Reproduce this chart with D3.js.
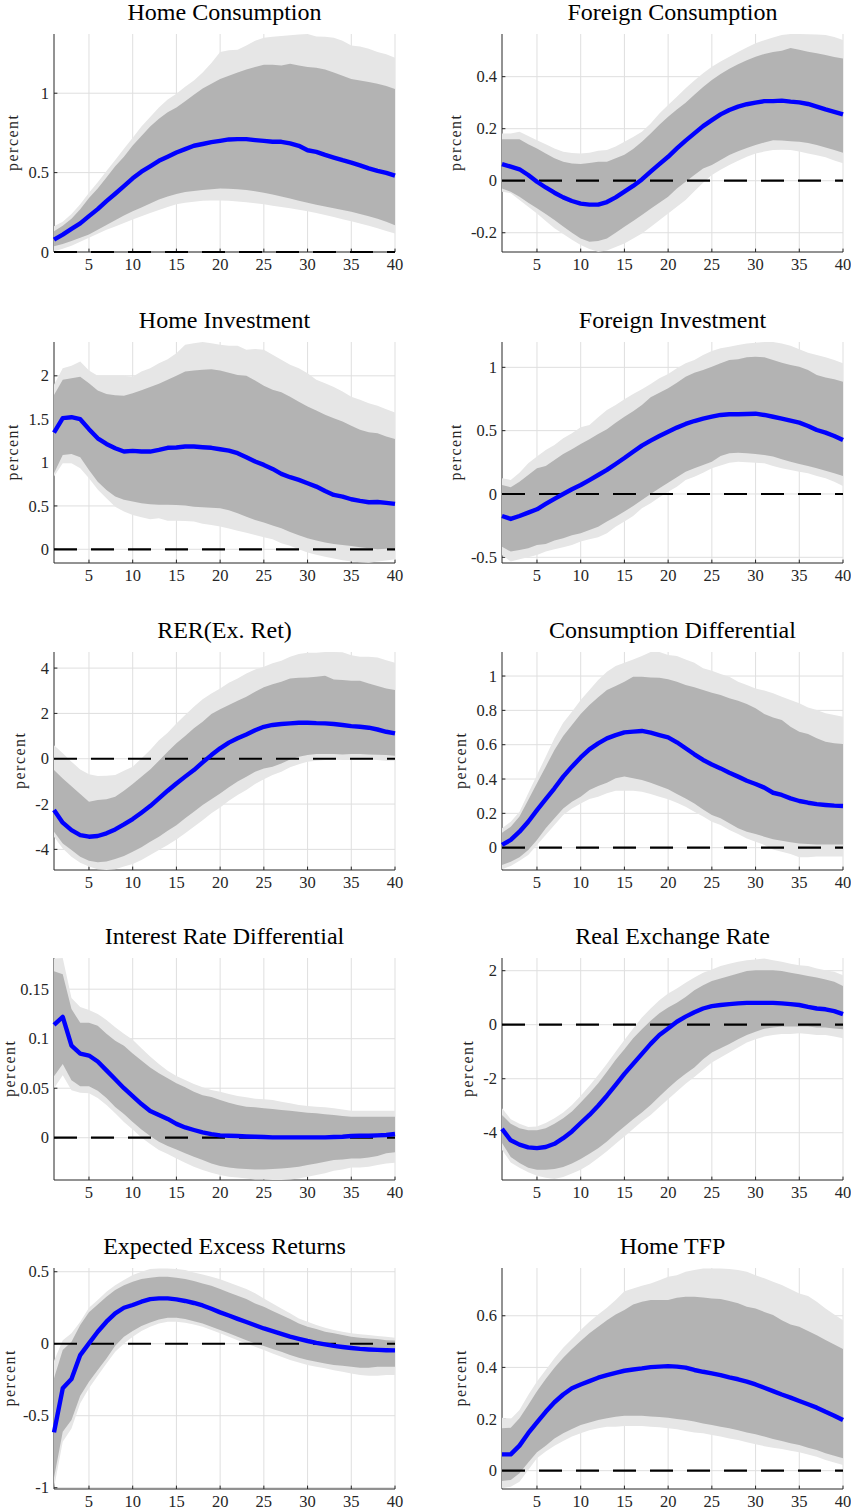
<!DOCTYPE html>
<html lang="en">
<head>
<meta charset="UTF-8">
<title>Impulse responses</title>
<script src="https://d3js.org/d3.v7.min.js"></script>
<style>
  body { margin: 0; background: #fff; }
  svg { display: block; font-family: "Liberation Serif", "Times New Roman", serif; }
</style>
</head>
<body>
<svg id="chart" width="851" height="1509"></svg>
<script>
// horizons 1..40
const horizon = d3.range(1, 41);
const xTicks = [5, 10, 15, 20, 25, 30, 35, 40];

const titles = ["Home Consumption", "Foreign Consumption", "Home Investment", "Foreign Investment",
    "RER(Ex. Ret)", "Consumption Differential", "Interest Rate Differential", "Real Exchange Rate",
    "Expected Excess Returns", "Home TFP"];

const yDomains = [[0, 1.373], [-0.274, 0.564], [-0.158, 2.39], [-0.545, 1.2], [-4.91, 4.71],
    [-0.13, 1.14], [-0.0427, 0.1815], [-5.75, 2.47], [-1.009, 0.526], [-0.071, 0.785]];

const yTicks = [[0, 0.5, 1], [-0.2, 0, 0.2, 0.4], [0, 0.5, 1, 1.5, 2], [-0.5, 0, 0.5, 1], [-4, -2, 0, 2, 4],
    [0, 0.2, 0.4, 0.6, 0.8, 1], [0, 0.05, 0.1, 0.15], [-4, -2, 0, 2], [-1, -0.5, 0, 0.5], [0, 0.2, 0.4, 0.6]];

// Home Consumption
const hcMedian = [0.078,0.11,0.146,0.18,0.226,0.27,0.32,0.367,0.415,0.464,0.506,0.54,0.574,0.6,0.627,0.648,0.669,0.68,0.692,0.70,0.709,0.711,0.711,0.705,0.70,0.694,0.694,0.684,0.669,0.641,0.631,0.612,0.595,0.578,0.563,0.546,0.527,0.511,0.498,0.481];
const hcInnerHi = [0.13,0.165,0.21,0.27,0.34,0.40,0.47,0.54,0.60,0.67,0.73,0.79,0.84,0.88,0.91,0.95,0.99,1.03,1.06,1.09,1.11,1.13,1.15,1.165,1.18,1.18,1.175,1.186,1.175,1.165,1.16,1.15,1.13,1.11,1.09,1.08,1.07,1.06,1.045,1.027];
const hcInnerLo = [0.036,0.05,0.07,0.09,0.11,0.14,0.17,0.20,0.23,0.257,0.28,0.305,0.33,0.35,0.365,0.378,0.384,0.39,0.395,0.40,0.398,0.395,0.39,0.383,0.373,0.362,0.35,0.337,0.323,0.31,0.298,0.287,0.275,0.264,0.253,0.24,0.225,0.21,0.19,0.169];
const hcOuterHi = [0.162,0.19,0.24,0.30,0.373,0.44,0.51,0.58,0.65,0.72,0.79,0.85,0.91,0.96,0.996,1.04,1.08,1.13,1.19,1.26,1.27,1.274,1.30,1.33,1.35,1.355,1.36,1.365,1.37,1.373,1.358,1.355,1.35,1.33,1.30,1.295,1.28,1.26,1.245,1.224];
const hcOuterLo = [0.004,0.02,0.04,0.065,0.09,0.115,0.14,0.16,0.183,0.205,0.225,0.245,0.265,0.283,0.30,0.31,0.317,0.322,0.325,0.325,0.323,0.318,0.313,0.307,0.30,0.292,0.284,0.275,0.266,0.257,0.245,0.233,0.22,0.207,0.194,0.18,0.166,0.15,0.133,0.116];

// Foreign Consumption
const fcMedian = [0.064,0.054,0.044,0.022,-0.004,-0.026,-0.046,-0.064,-0.078,-0.088,-0.092,-0.092,-0.082,-0.064,-0.042,-0.02,0.005,0.035,0.064,0.092,0.124,0.154,0.182,0.21,0.233,0.255,0.272,0.285,0.294,0.30,0.306,0.306,0.308,0.304,0.301,0.295,0.285,0.274,0.265,0.255];
const fcInnerHi = [0.159,0.159,0.159,0.14,0.124,0.105,0.086,0.073,0.066,0.064,0.068,0.073,0.073,0.086,0.10,0.122,0.15,0.182,0.215,0.246,0.274,0.30,0.33,0.36,0.387,0.41,0.43,0.448,0.463,0.477,0.487,0.495,0.50,0.51,0.503,0.496,0.49,0.483,0.476,0.47];
const fcInnerLo = [-0.03,-0.042,-0.062,-0.085,-0.106,-0.128,-0.151,-0.176,-0.2,-0.222,-0.235,-0.232,-0.222,-0.2,-0.177,-0.155,-0.132,-0.108,-0.085,-0.062,-0.03,-0.004,0.022,0.047,0.06,0.08,0.099,0.113,0.126,0.137,0.147,0.156,0.155,0.152,0.15,0.145,0.137,0.128,0.118,0.108];
const fcOuterHi = [0.182,0.182,0.188,0.172,0.156,0.14,0.124,0.111,0.107,0.105,0.108,0.115,0.118,0.132,0.15,0.168,0.188,0.22,0.258,0.291,0.323,0.355,0.385,0.413,0.438,0.458,0.477,0.495,0.512,0.528,0.54,0.551,0.56,0.564,0.564,0.563,0.562,0.56,0.552,0.541];
const fcOuterLo = [-0.042,-0.048,-0.074,-0.1,-0.126,-0.155,-0.183,-0.205,-0.227,-0.247,-0.262,-0.273,-0.268,-0.255,-0.241,-0.222,-0.203,-0.178,-0.152,-0.126,-0.1,-0.074,-0.04,-0.008,0.022,0.042,0.06,0.077,0.092,0.105,0.112,0.118,0.119,0.118,0.112,0.105,0.098,0.09,0.078,0.067];

// Home Investment
const hiMedian = [1.346,1.512,1.523,1.5,1.385,1.28,1.215,1.165,1.127,1.135,1.127,1.127,1.146,1.17,1.173,1.185,1.185,1.177,1.17,1.154,1.138,1.108,1.062,1.012,0.973,0.927,0.869,0.831,0.80,0.762,0.723,0.673,0.627,0.608,0.577,0.558,0.542,0.546,0.535,0.523];
const hiInnerHi = [1.78,1.954,1.973,1.99,1.915,1.83,1.79,1.775,1.77,1.80,1.835,1.87,1.91,1.954,2.0,2.05,2.06,2.07,2.077,2.06,2.035,2.01,2.0,1.946,1.885,1.84,1.81,1.76,1.70,1.646,1.6,1.55,1.51,1.473,1.423,1.377,1.35,1.338,1.3,1.273];
const hiInnerLo = [0.877,1.088,1.1,1.06,0.915,0.78,0.685,0.608,0.57,0.55,0.53,0.52,0.515,0.513,0.511,0.505,0.49,0.485,0.48,0.473,0.45,0.415,0.375,0.338,0.308,0.275,0.242,0.2,0.162,0.127,0.1,0.077,0.062,0.05,0.038,0.025,0.012,0.0,0.006,0.012];
const hiOuterHi = [1.896,2.088,2.115,2.165,2.06,2.0,2.0,2.0,2.0,1.99,2.05,2.088,2.146,2.19,2.26,2.358,2.377,2.39,2.377,2.358,2.346,2.346,2.3,2.308,2.3,2.242,2.185,2.127,2.088,2.03,1.954,1.915,1.87,1.82,1.76,1.723,1.685,1.654,1.615,1.577];
const hiOuterLo = [0.838,0.992,0.992,0.935,0.82,0.69,0.588,0.49,0.435,0.396,0.37,0.346,0.358,0.33,0.33,0.325,0.32,0.295,0.28,0.262,0.24,0.215,0.19,0.165,0.138,0.115,0.07,0.04,0.0,-0.038,-0.062,-0.085,-0.105,-0.125,-0.142,-0.15,-0.154,-0.142,-0.13,-0.115];

// Foreign Investment
const fiMedian = [-0.174,-0.197,-0.174,-0.147,-0.121,-0.079,-0.039,0.0,0.037,0.071,0.11,0.15,0.19,0.237,0.284,0.334,0.382,0.421,0.458,0.492,0.524,0.553,0.576,0.595,0.61,0.624,0.629,0.629,0.632,0.634,0.624,0.61,0.595,0.579,0.563,0.537,0.505,0.484,0.458,0.426];
const fiInnerHi = [0.071,0.053,0.097,0.15,0.203,0.221,0.268,0.316,0.353,0.395,0.432,0.474,0.511,0.563,0.61,0.654,0.703,0.763,0.8,0.834,0.879,0.926,0.958,0.979,1.005,1.032,1.058,1.063,1.079,1.084,1.079,1.058,1.037,1.018,1.005,0.979,0.939,0.92,0.905,0.887];
const fiInnerLo = [-0.416,-0.455,-0.442,-0.429,-0.403,-0.395,-0.368,-0.35,-0.326,-0.31,-0.284,-0.258,-0.218,-0.179,-0.139,-0.095,-0.047,0.0,0.045,0.089,0.132,0.176,0.203,0.229,0.255,0.30,0.321,0.326,0.321,0.316,0.308,0.295,0.274,0.255,0.237,0.221,0.203,0.184,0.163,0.142];
const fiOuterHi = [0.124,0.111,0.168,0.242,0.295,0.347,0.387,0.44,0.479,0.526,0.545,0.605,0.663,0.703,0.747,0.789,0.826,0.868,0.913,0.947,0.992,1.032,1.058,1.097,1.129,1.15,1.163,1.176,1.189,1.195,1.2,1.2,1.189,1.171,1.142,1.116,1.097,1.079,1.058,1.032];
const fiOuterLo = [-0.482,-0.534,-0.516,-0.5,-0.482,-0.455,-0.437,-0.421,-0.403,-0.376,-0.358,-0.342,-0.311,-0.258,-0.218,-0.174,-0.113,-0.074,-0.026,0.018,0.058,0.111,0.137,0.168,0.203,0.224,0.247,0.255,0.25,0.247,0.242,0.221,0.203,0.189,0.176,0.163,0.142,0.124,0.097,0.063];

// RER (excess return)
const rerMedian = [-2.26,-2.82,-3.15,-3.37,-3.44,-3.41,-3.29,-3.12,-2.9,-2.66,-2.38,-2.09,-1.75,-1.41,-1.09,-0.79,-0.5,-0.16,0.16,0.46,0.71,0.9,1.07,1.26,1.41,1.49,1.53,1.56,1.59,1.59,1.57,1.56,1.53,1.49,1.44,1.41,1.37,1.29,1.19,1.12];
const rerInnerHi = [-0.5,-0.87,-1.21,-1.56,-1.9,-1.82,-1.79,-1.68,-1.41,-1.12,-0.79,-0.47,-0.09,0.31,0.68,1.0,1.34,1.63,1.97,2.18,2.37,2.56,2.74,2.96,3.15,3.29,3.4,3.54,3.57,3.59,3.62,3.66,3.5,3.47,3.44,3.44,3.32,3.21,3.1,3.03];
const rerInnerLo = [-3.22,-3.74,-4.03,-4.32,-4.5,-4.57,-4.54,-4.43,-4.29,-4.1,-3.91,-3.66,-3.44,-3.18,-2.93,-2.63,-2.34,-2.04,-1.79,-1.53,-1.26,-1.01,-0.79,-0.57,-0.43,-0.35,-0.21,-0.03,0.09,0.16,0.21,0.21,0.21,0.19,0.21,0.21,0.19,0.18,0.16,0.13];
const rerOuterHi = [0.6,0.24,-0.13,-0.47,-0.68,-0.76,-0.75,-0.72,-0.53,-0.35,0.01,0.38,0.82,1.15,1.56,1.93,2.29,2.62,2.88,3.1,3.35,3.54,3.76,3.94,4.06,4.21,4.32,4.5,4.62,4.68,4.68,4.71,4.71,4.7,4.57,4.5,4.5,4.47,4.35,4.24];
const rerOuterLo = [-3.44,-3.96,-4.32,-4.59,-4.76,-4.88,-4.91,-4.88,-4.76,-4.65,-4.47,-4.25,-4.03,-3.81,-3.56,-3.29,-3.0,-2.71,-2.41,-2.15,-1.85,-1.6,-1.38,-1.12,-0.91,-0.72,-0.57,-0.38,-0.24,-0.13,-0.09,-0.06,-0.03,-0.06,-0.06,-0.06,-0.03,-0.06,-0.09,-0.09];

// Consumption Differential
const cdMedian = [0.016,0.045,0.093,0.151,0.219,0.283,0.346,0.414,0.472,0.526,0.573,0.608,0.637,0.656,0.672,0.676,0.68,0.67,0.656,0.643,0.614,0.579,0.544,0.511,0.485,0.462,0.437,0.414,0.39,0.371,0.35,0.32,0.307,0.287,0.272,0.262,0.254,0.249,0.245,0.243];
const cdInnerHi = [0.087,0.122,0.181,0.278,0.375,0.472,0.569,0.65,0.715,0.779,0.831,0.876,0.918,0.942,0.967,0.996,0.996,0.992,0.99,0.981,0.967,0.948,0.934,0.918,0.903,0.889,0.87,0.856,0.837,0.812,0.779,0.759,0.744,0.705,0.676,0.662,0.637,0.617,0.608,0.604];
const cdInnerLo = [-0.101,-0.082,-0.056,-0.014,0.045,0.113,0.171,0.229,0.268,0.297,0.336,0.359,0.379,0.404,0.414,0.404,0.394,0.379,0.359,0.34,0.313,0.287,0.258,0.223,0.19,0.171,0.142,0.113,0.093,0.08,0.064,0.049,0.041,0.031,0.025,0.021,0.019,0.019,0.019,0.019];
const cdOuterHi = [0.113,0.151,0.21,0.317,0.423,0.53,0.637,0.728,0.792,0.86,0.918,0.977,1.025,1.058,1.078,1.097,1.117,1.14,1.14,1.122,1.117,1.097,1.078,1.045,1.031,1.012,0.996,0.967,0.948,0.928,0.915,0.899,0.88,0.86,0.841,0.817,0.802,0.783,0.773,0.763];
const cdOuterLo = [-0.126,-0.107,-0.076,-0.043,0.016,0.074,0.132,0.19,0.229,0.258,0.283,0.297,0.317,0.332,0.332,0.332,0.326,0.313,0.297,0.282,0.262,0.239,0.21,0.181,0.151,0.132,0.103,0.08,0.054,0.035,0.016,-0.01,-0.023,-0.037,-0.056,-0.056,-0.052,-0.052,-0.052,-0.052];

// Interest Rate Differential
const irdMedian = [0.114,0.122,0.093,0.085,0.083,0.077,0.068,0.059,0.05,0.042,0.034,0.027,0.023,0.019,0.014,0.0104,0.0078,0.0054,0.0037,0.0024,0.002,0.0017,0.0013,0.001,0.0007,0.0003,0.0003,0.0003,0.0003,0.0003,0.0003,0.0003,0.0007,0.001,0.0017,0.002,0.002,0.0024,0.0027,0.0037];
const irdInnerHi = [0.168,0.165,0.13,0.116,0.116,0.113,0.105,0.098,0.093,0.085,0.078,0.071,0.065,0.06,0.055,0.051,0.0465,0.043,0.041,0.038,0.0354,0.033,0.0313,0.0307,0.0297,0.029,0.028,0.0273,0.0263,0.0253,0.0246,0.0236,0.023,0.022,0.0212,0.0212,0.0212,0.0212,0.0212,0.0212];
const irdInnerLo = [0.062,0.0745,0.058,0.052,0.052,0.0475,0.04,0.031,0.024,0.016,0.0084,0.0017,-0.004,-0.0084,-0.0118,-0.0158,-0.0192,-0.0226,-0.026,-0.0286,-0.03,-0.031,-0.0317,-0.032,-0.032,-0.0317,-0.031,-0.0303,-0.0293,-0.0276,-0.026,-0.0243,-0.0226,-0.0219,-0.0209,-0.0209,-0.0199,-0.0185,-0.0158,-0.0148];
const irdOuterHi = [0.181,0.1815,0.141,0.132,0.129,0.125,0.119,0.1116,0.105,0.099,0.0903,0.082,0.0745,0.0677,0.0624,0.0583,0.0543,0.051,0.0482,0.0465,0.0442,0.0421,0.0408,0.0394,0.0388,0.038,0.0364,0.0347,0.033,0.032,0.0313,0.0307,0.0297,0.0286,0.0273,0.0273,0.0273,0.0273,0.0273,0.0273];
const irdOuterLo = [0.05,0.063,0.048,0.0455,0.0448,0.04,0.033,0.0246,0.016,0.0084,0.0003,-0.0064,-0.0125,-0.0165,-0.0209,-0.0253,-0.0293,-0.0327,-0.0354,-0.0377,-0.0394,-0.0401,-0.0411,-0.0421,-0.0421,-0.0427,-0.0427,-0.0421,-0.0411,-0.0394,-0.0377,-0.036,-0.0334,-0.032,-0.03,-0.03,-0.0293,-0.0276,-0.026,-0.0253];

// Real Exchange Rate
const rxMedian = [-3.86,-4.28,-4.44,-4.54,-4.57,-4.53,-4.41,-4.2,-3.95,-3.64,-3.34,-3.0,-2.63,-2.23,-1.82,-1.45,-1.08,-0.71,-0.38,-0.14,0.11,0.3,0.46,0.6,0.69,0.73,0.76,0.79,0.81,0.81,0.81,0.81,0.79,0.76,0.73,0.66,0.6,0.57,0.5,0.39];
const rxInnerHi = [-3.34,-3.67,-3.83,-3.91,-3.91,-3.83,-3.67,-3.46,-3.21,-2.88,-2.54,-2.17,-1.74,-1.3,-0.91,-0.5,-0.17,0.15,0.42,0.64,0.81,1.03,1.28,1.46,1.62,1.71,1.8,1.9,1.99,2.02,2.02,2.02,1.99,1.92,1.87,1.8,1.75,1.67,1.59,1.43];
const rxInnerLo = [-4.38,-4.9,-5.12,-5.3,-5.37,-5.37,-5.34,-5.27,-5.14,-4.97,-4.78,-4.57,-4.32,-4.04,-3.77,-3.5,-3.25,-2.97,-2.66,-2.35,-2.07,-1.82,-1.58,-1.28,-1.03,-0.87,-0.71,-0.54,-0.38,-0.26,-0.15,-0.1,-0.07,-0.07,-0.07,-0.07,-0.1,-0.1,-0.14,-0.17];
const rxOuterHi = [-3.09,-3.5,-3.67,-3.79,-3.77,-3.64,-3.46,-3.25,-2.97,-2.63,-2.26,-1.86,-1.45,-1.0,-0.57,-0.14,0.27,0.6,0.91,1.16,1.34,1.55,1.75,1.92,2.04,2.17,2.26,2.33,2.39,2.41,2.45,2.39,2.33,2.26,2.2,2.17,2.08,2.02,1.96,1.83];
const rxOuterLo = [-4.63,-5.1,-5.3,-5.46,-5.59,-5.67,-5.71,-5.64,-5.51,-5.37,-5.18,-4.94,-4.69,-4.41,-4.14,-3.86,-3.58,-3.34,-3.05,-2.76,-2.47,-2.19,-1.94,-1.67,-1.4,-1.21,-1.03,-0.84,-0.66,-0.54,-0.44,-0.38,-0.34,-0.34,-0.32,-0.34,-0.38,-0.38,-0.44,-0.5];

// Expected Excess Returns
const eerMedian = [-0.616,-0.31,-0.245,-0.079,0.002,0.083,0.153,0.211,0.25,0.269,0.292,0.31,0.315,0.315,0.308,0.297,0.283,0.266,0.243,0.218,0.196,0.173,0.151,0.128,0.106,0.087,0.068,0.05,0.034,0.019,0.006,-0.005,-0.015,-0.023,-0.03,-0.036,-0.04,-0.043,-0.045,-0.046];
const eerInnerHi = [-0.24,-0.044,0.014,0.13,0.218,0.273,0.326,0.373,0.407,0.43,0.449,0.458,0.465,0.465,0.458,0.449,0.435,0.419,0.403,0.38,0.356,0.333,0.31,0.28,0.257,0.227,0.199,0.171,0.141,0.118,0.102,0.083,0.072,0.06,0.049,0.042,0.037,0.032,0.025,0.023];
const eerInnerLo = [-0.93,-0.611,-0.53,-0.361,-0.264,-0.183,-0.102,-0.014,0.049,0.088,0.123,0.148,0.169,0.181,0.181,0.171,0.157,0.141,0.118,0.095,0.072,0.049,0.025,0.002,-0.016,-0.037,-0.056,-0.079,-0.097,-0.113,-0.125,-0.137,-0.148,-0.153,-0.16,-0.167,-0.167,-0.16,-0.16,-0.16];
const eerOuterHi = [-0.12,0.025,0.072,0.153,0.25,0.303,0.361,0.407,0.442,0.477,0.5,0.519,0.523,0.523,0.519,0.512,0.495,0.481,0.465,0.447,0.426,0.403,0.38,0.35,0.315,0.28,0.245,0.211,0.176,0.153,0.13,0.111,0.095,0.083,0.072,0.065,0.06,0.053,0.049,0.042];
const eerOuterLo = [-1.0,-0.68,-0.588,-0.414,-0.31,-0.222,-0.137,-0.056,0.002,0.049,0.088,0.118,0.141,0.153,0.153,0.146,0.134,0.118,0.095,0.072,0.049,0.025,0.002,-0.021,-0.044,-0.067,-0.09,-0.113,-0.13,-0.148,-0.16,-0.171,-0.185,-0.194,-0.206,-0.218,-0.222,-0.222,-0.218,-0.218];

// Home TFP
const tfpMedian = [0.063,0.063,0.097,0.145,0.187,0.228,0.265,0.295,0.319,0.334,0.347,0.36,0.37,0.379,0.387,0.392,0.396,0.401,0.403,0.405,0.403,0.399,0.39,0.383,0.377,0.37,0.361,0.354,0.345,0.334,0.321,0.308,0.295,0.283,0.27,0.257,0.244,0.228,0.213,0.196];
const tfpInnerHi = [0.164,0.166,0.203,0.254,0.308,0.355,0.399,0.437,0.471,0.502,0.532,0.557,0.583,0.605,0.622,0.644,0.654,0.661,0.661,0.661,0.67,0.674,0.674,0.671,0.667,0.665,0.657,0.648,0.635,0.628,0.615,0.603,0.583,0.566,0.557,0.541,0.525,0.506,0.489,0.471];
const tfpInnerLo = [-0.04,-0.036,-0.01,0.032,0.071,0.097,0.125,0.145,0.161,0.177,0.187,0.196,0.203,0.209,0.213,0.213,0.213,0.21,0.208,0.205,0.2,0.196,0.19,0.183,0.177,0.17,0.164,0.157,0.148,0.141,0.132,0.123,0.115,0.106,0.099,0.089,0.08,0.067,0.058,0.048];
const tfpOuterHi = [0.205,0.2,0.235,0.293,0.345,0.39,0.435,0.476,0.51,0.545,0.577,0.605,0.631,0.661,0.695,0.706,0.716,0.725,0.738,0.751,0.757,0.77,0.777,0.783,0.783,0.783,0.781,0.777,0.77,0.757,0.745,0.732,0.719,0.703,0.686,0.677,0.654,0.628,0.605,0.583];
const tfpOuterLo = [-0.068,-0.062,-0.043,0.003,0.048,0.074,0.097,0.115,0.132,0.145,0.157,0.164,0.17,0.17,0.173,0.173,0.173,0.17,0.168,0.164,0.16,0.154,0.148,0.145,0.138,0.132,0.125,0.119,0.11,0.102,0.095,0.089,0.084,0.077,0.071,0.063,0.054,0.041,0.032,0.022];

const medians = [hcMedian, fcMedian, hiMedian, fiMedian, rerMedian, cdMedian, irdMedian, rxMedian, eerMedian, tfpMedian];
const innerHi = [hcInnerHi, fcInnerHi, hiInnerHi, fiInnerHi, rerInnerHi, cdInnerHi, irdInnerHi, rxInnerHi, eerInnerHi, tfpInnerHi];
const innerLo = [hcInnerLo, fcInnerLo, hiInnerLo, fiInnerLo, rerInnerLo, cdInnerLo, irdInnerLo, rxInnerLo, eerInnerLo, tfpInnerLo];
const outerHi = [hcOuterHi, fcOuterHi, hiOuterHi, fiOuterHi, rerOuterHi, cdOuterHi, irdOuterHi, rxOuterHi, eerOuterHi, tfpOuterHi];
const outerLo = [hcOuterLo, fcOuterLo, hiOuterLo, fiOuterLo, rerOuterLo, cdOuterLo, irdOuterLo, rxOuterLo, eerOuterLo, tfpOuterLo];

// layout (pixels)
const colLeft = [54, 502];
const plotW = 341;
const rowTop = [34, 342, 652, 958, 1268];
const rowBottom = [252, 563, 870, 1180, 1489];

const axisColor = "#262626";
const gridColor = "#dfdfdf";

const svg = d3.select("#chart");

function drawPanel(i) {
    const col = i % 2, row = Math.floor(i / 2);
    const w = plotW, h = rowBottom[row] - rowTop[row];
    const left = colLeft[col];
    const g = svg.append("g").attr("transform", `translate(${left},${rowTop[row]})`);

    const x = d3.scaleLinear().domain([1, 40]).range([0, w]);
    const y = d3.scaleLinear().domain(yDomains[i]).range([h, 0]);

    // grid
    g.append("g").selectAll("line").data(xTicks).join("line")
        .attr("x1", d => x(d)).attr("x2", d => x(d))
        .attr("y1", 0).attr("y2", h)
        .attr("stroke", gridColor).attr("stroke-width", 1);
    g.append("g").selectAll("line").data(yTicks[i]).join("line")
        .attr("x1", 0).attr("x2", w)
        .attr("y1", d => y(d)).attr("y2", d => y(d))
        .attr("stroke", gridColor).attr("stroke-width", 1);

    // axis lines and inward ticks (drawn under the bands, like the original)
    g.append("line").attr("x1", 0).attr("x2", 0).attr("y1", 0).attr("y2", h)
        .attr("stroke", axisColor).attr("stroke-width", 1);
    g.append("line").attr("x1", 0).attr("x2", w).attr("y1", h).attr("y2", h)
        .attr("stroke", axisColor).attr("stroke-width", 1);
    g.append("g").selectAll("line").data(xTicks).join("line")
        .attr("x1", d => x(d)).attr("x2", d => x(d))
        .attr("y1", h).attr("y2", h - 3.4)
        .attr("stroke", axisColor);
    g.append("g").selectAll("line").data(yTicks[i]).join("line")
        .attr("x1", 0).attr("x2", 3.4)
        .attr("y1", d => y(d)).attr("y2", d => y(d))
        .attr("stroke", axisColor);

    // bands
    const rows = horizon.map((t, k) => ({
        t, med: medians[i][k], iLo: innerLo[i][k], iHi: innerHi[i][k], oLo: outerLo[i][k], oHi: outerHi[i][k]
    }));
    g.append("path").datum(rows)
        .attr("fill", "#e6e6e6")
        .attr("d", d3.area().x(d => x(d.t)).y0(d => y(d.oLo)).y1(d => y(d.oHi)));
    g.append("path").datum(rows)
        .attr("fill", "#b3b3b3")
        .attr("d", d3.area().x(d => x(d.t)).y0(d => y(d.iLo)).y1(d => y(d.iHi)));

    // zero line
    g.append("line")
        .attr("x1", x(1)).attr("x2", x(40))
        .attr("y1", y(0)).attr("y2", y(0))
        .attr("stroke", "#000").attr("stroke-width", 2.2)
        .attr("stroke-dasharray", "23 14");

    // median response
    g.append("path").datum(rows)
        .attr("fill", "none")
        .attr("stroke", "#0000ff")
        .attr("stroke-width", 4.4)
        .attr("stroke-linejoin", "round")
        .attr("d", d3.line().x(d => x(d.t)).y(d => y(d.med)));

    // tick labels
    g.append("g").selectAll("text").data(xTicks).join("text")
        .attr("x", d => x(d)).attr("y", h + 17.5)
        .attr("text-anchor", "middle")
        .attr("font-size", 16.5).attr("fill", axisColor)
        .text(d => d);
    const yLabels = g.append("g").selectAll("text").data(yTicks[i]).join("text")
        .attr("x", -5).attr("y", d => y(d)).attr("dy", "0.34em")
        .attr("text-anchor", "end")
        .attr("font-size", 16.5).attr("fill", axisColor)
        .text(d => String(d));

    let maxW = 0;
    yLabels.each(function () { maxW = Math.max(maxW, this.getComputedTextLength()); });

    // y label sits left of the widest tick label, but never past the page edge
    const labelX = Math.max(-5 - maxW - 10, 15 - left);
    g.append("text")
        .attr("transform", `translate(${labelX},${h / 2}) rotate(-90)`)
        .attr("text-anchor", "middle")
        .attr("font-size", 16).attr("fill", axisColor)
        .attr("textLength", 56).attr("lengthAdjust", "spacing")
        .text("percent");

    g.append("text")
        .attr("x", w / 2).attr("y", -14)
        .attr("text-anchor", "middle")
        .attr("font-size", 24).attr("fill", "#000")
        .text(titles[i]);
}

titles.forEach((_, i) => drawPanel(i));
</script>
</body>
</html>
